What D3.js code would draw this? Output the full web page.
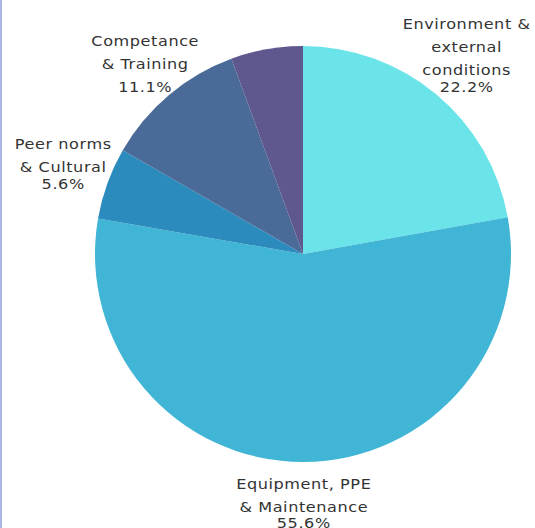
<!DOCTYPE html>
<html>
<head>
<meta charset="utf-8">
<script src="https://cdn.jsdelivr.net/npm/d3@7"></script>
<style>
  body { margin: 0; background: #fff; }
  svg text { font-family: "DejaVu Sans", sans-serif; fill: #333; letter-spacing: 0.5px; }
</style>
</head>
<body>
<div id="container"></div>
<script>
const w = 535;
const h = 528;

// slices, clockwise from 12 o'clock
const categories = ["Environment & external conditions", "Equipment, PPE & Maintenance", "Peer norms & Cultural", "Competance & Training", ""];
const labelLines = [["Environment &", "external", "conditions"], ["Equipment, PPE", "& Maintenance"], ["Peer norms", "& Cultural"], ["Competance", "& Training"], []];
const values = [22.2, 55.6, 5.6, 11.1, 5.6];
const colors = ["#6ae4e8", "#40b5d5", "#2c8bbd", "#4a6a97", "#5f588e"];

// label layout only: gap before the percent line, and label distance from centre
const pctGap = [17, 16, 17, 23, 17];
const labelR = [255, 253, 255, 245, 255];

const cx = 303;
const cy = 254;
const radius = 208;

const svg = d3.select("#container")
  .append("svg")
  .attr("width", w)
  .attr("height", h);

// thin border line on the left edge
svg.append("rect")
  .attr("x", 0)
  .attr("y", 0)
  .attr("width", 2)
  .attr("height", h)
  .attr("fill", "#a9b6e4");

const data = categories.map((c, i) => ({ name: c, lines: labelLines[i], value: values[i], color: colors[i], gap: pctGap[i], lr: labelR[i] }));

const pie = d3.pie()
  .value((d) => d.value)
  .sort(null);

const arc = d3.arc()
  .innerRadius(0)
  .outerRadius(radius);

const g = svg.append("g")
  .attr("transform", "translate(" + cx + "," + cy + ")");

const arcs = pie(data);

g.selectAll("path")
  .data(arcs)
  .enter()
  .append("path")
  .attr("d", arc)
  .attr("fill", (d) => d.data.color);

const labels = g.selectAll(".label")
  .data(arcs.filter((d) => d.data.lines.length > 0))
  .enter()
  .append("text")
  .attr("class", "label")
  .attr("text-anchor", "middle")
  .style("font-size", "14px")
  .attr("transform", (d) => {
    const [x, y] = d3.arc().innerRadius(d.data.lr).outerRadius(d.data.lr).centroid(d);
    const blockH = (d.data.lines.length - 1) * 23 + d.data.gap;
    // the reference font is wide, stretch a bit
    return "translate(" + x + "," + (y - blockH / 2 + 2) + ") scale(1.15,1)";
  });

labels.each(function (d) {
  const t = d3.select(this);
  d.data.lines.forEach((line, i) => {
    t.append("tspan")
      .attr("x", 0)
      .attr("y", i * 23)
      .text(line);
  });
  t.append("tspan")
    .attr("x", 0)
    .attr("y", (d.data.lines.length - 1) * 23 + d.data.gap)
    .text(d.data.value.toFixed(1) + "%");
});
</script>
</body>
</html>
